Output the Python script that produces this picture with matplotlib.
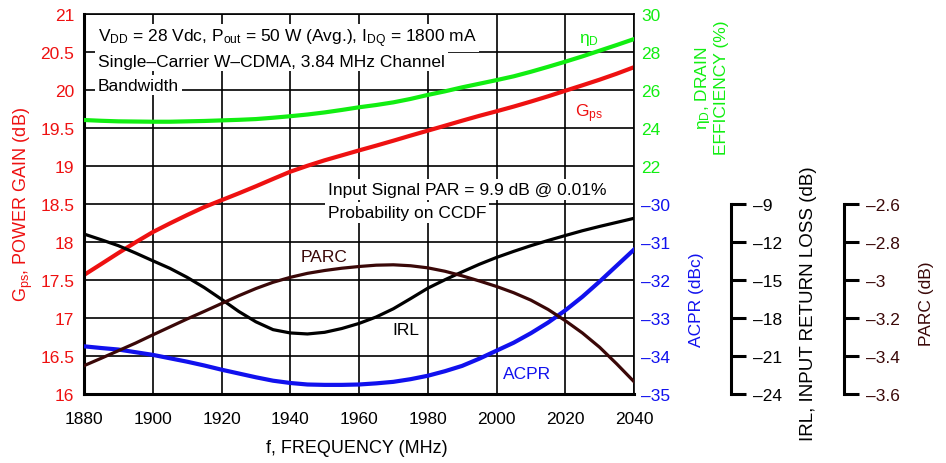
import matplotlib
matplotlib.use("Agg")
import matplotlib.pyplot as plt

plt.rcParams['font.family'] = ['Liberation Sans', 'DejaVu Sans']
plt.rcParams['mathtext.fontset'] = 'custom'
plt.rcParams['mathtext.rm'] = 'Liberation Sans'
plt.rcParams['mathtext.it'] = 'Liberation Sans'

# values, every 5 MHz
freq = [1880, 1885, 1890, 1895, 1900, 1905, 1910, 1915, 1920, 1925, 1930,
        1935, 1940, 1945, 1950, 1955, 1960, 1965, 1970, 1975, 1980, 1985,
        1990, 1995, 2000, 2005, 2010, 2015, 2020, 2025, 2030, 2035, 2040]
gps = [17.566, 17.71, 17.855, 17.996, 18.13, 18.245, 18.355, 18.46, 18.55,
       18.64, 18.733, 18.83, 18.925, 19.003, 19.075, 19.14, 19.205, 19.268,
       19.333, 19.40, 19.465, 19.53, 19.596, 19.66, 19.72, 19.782, 19.848,
       19.917, 19.99, 20.062, 20.136, 20.215, 20.30]
eta = [24.42, 24.38, 24.35, 24.34, 24.33, 24.33, 24.35, 24.37, 24.40, 24.43,
       24.47, 24.54, 24.62, 24.71, 24.82, 24.95, 25.09, 25.21, 25.35, 25.53,
       25.74, 25.93, 26.14, 26.33, 26.52, 26.72, 26.96, 27.22, 27.49, 27.77,
       28.07, 28.37, 28.68]
irl = [-11.37, -11.82, -12.29, -12.87, -13.48, -14.08, -14.79, -15.6, -16.52,
       -17.48, -18.3, -18.92, -19.18, -19.26, -19.13, -18.83, -18.43, -17.92,
       -17.27, -16.47, -15.65, -14.98, -14.36, -13.76, -13.22, -12.74, -12.29,
       -11.88, -11.49, -11.11, -10.77, -10.45, -10.13]
parc = [-3.451, -3.412, -3.372, -3.332, -3.289, -3.247, -3.205, -3.165, -3.124,
        -3.083, -3.045, -3.012, -2.986, -2.965, -2.950, -2.938, -2.929, -2.922,
        -2.920, -2.925, -2.936, -2.954, -2.978, -3.005, -3.034, -3.067, -3.106,
        -3.155, -3.214, -3.279, -3.354, -3.442, -3.535]
acpr = [-33.745, -33.79, -33.83, -33.90, -33.97, -34.06, -34.15, -34.25, -34.36,
        -34.46, -34.56, -34.65, -34.71, -34.75, -34.76, -34.76, -34.75, -34.72,
        -34.68, -34.61, -34.52, -34.40, -34.26, -34.07, -33.86, -33.65, -33.40,
        -33.12, -32.80, -32.44, -32.04, -31.62, -31.20]

xticks = [1880, 1900, 1920, 1940, 1960, 1980, 2000, 2020, 2040]
gps_ticks = [16, 16.5, 17, 17.5, 18, 18.5, 19, 19.5, 20, 20.5, 21]
eta_ticks = [22, 24, 26, 28, 30]
acpr_ticks = [-35, -34, -33, -32, -31, -30]
irl_ticks = [-24, -21, -18, -15, -12, -9]
parc_ticks = [-3.6, -3.4, -3.2, -3, -2.8, -2.6]

RED = '#ee1111'
GREEN = '#11ee11'
BLUE = '#1111ee'
BROWN = '#3a0808'
FS = 12.5

fig = plt.figure(figsize=(9.46, 4.64), dpi=100)
ax = fig.add_axes([84/946, 1-395/464, 550/946, 380/464])

ax.set_xlim(1880, 2040)
ax.set_ylim(16, 21)
ax.set_xticks(xticks)
ax.set_yticks(gps_ticks)
ax.set_yticklabels([('%g' % t) for t in gps_ticks])
ax.grid(True, color='black', lw=1.2)
ax.tick_params(axis='x', length=0, pad=12, labelsize=12.5)
ax.tick_params(axis='y', length=0, pad=7, labelsize=12.5, colors=RED)
for s in ['left', 'bottom']:
    ax.spines[s].set_linewidth(2.2)
for s in ['top', 'right']:
    ax.spines[s].set_linewidth(1.2)
ax.set_ylabel(r'G$_{\mathrm{ps}}$, POWER GAIN (dB)', color=RED, fontsize=13, labelpad=4)
ax.plot(freq, gps, color=RED, lw=3)

# efficiency, upper right scale
ax_eta = ax.twinx()
ax_eta.set_ylim(10, 30)
ax_eta.set_yticks(eta_ticks)
ax_eta.tick_params(axis='y', length=0, pad=5, labelsize=12.5, colors=GREEN)
ax_eta.plot(freq, eta, color=GREEN, lw=3)

# ACPR, lower right scale
ax_acpr = ax.twinx()
ax_acpr.set_ylim(-35, -25)
ax_acpr.set_yticks(acpr_ticks)
ax_acpr.set_yticklabels(['\u2013%d' % -t for t in acpr_ticks])
ax_acpr.tick_params(axis='y', length=0, pad=5, labelsize=12.5, colors=BLUE)
ax_acpr.plot(freq, acpr, color=BLUE, lw=3)

# IRL scale, separate spine
ax_irl = ax.twinx()
ax_irl.set_ylim(-24, 6)
ax_irl.spines['right'].set_position(('axes', 1.176))
ax_irl.spines['right'].set_bounds(-24, -9)
ax_irl.spines['right'].set_linewidth(2.2)
ax_irl.set_yticks(irl_ticks)
ax_irl.set_yticklabels(['\u2013%d' % -t for t in irl_ticks])
ax_irl.tick_params(axis='y', length=11, width=2.2, pad=5, labelsize=12.5)
for s in ['top', 'left', 'bottom']:
    ax_irl.spines[s].set_visible(False)
ax_irl.plot(freq, irl, color='black', lw=2.3)

# PARC scale, separate spine
ax_parc = ax.twinx()
ax_parc.set_ylim(-3.6, -1.6)
ax_parc.spines['right'].set_position(('axes', 1.382))
ax_parc.spines['right'].set_bounds(-3.6, -2.6)
ax_parc.spines['right'].set_linewidth(2.2)
ax_parc.set_yticks(parc_ticks)
ax_parc.set_yticklabels(['\u2013%g' % -t for t in parc_ticks])
ax_parc.tick_params(axis='y', length=11, width=2.2, pad=5, labelsize=12.5, labelcolor=BROWN)
for s in ['top', 'left', 'bottom']:
    ax_parc.spines[s].set_visible(False)
ax_parc.plot(freq, parc, color=BROWN, lw=2.3)

for a in [ax_eta, ax_acpr]:
    for s in ['top', 'left', 'bottom', 'right']:
        a.spines[s].set_visible(False)

box = dict(facecolor='white', edgecolor='none', pad=2)
ax.text(1884.1, 20.636, r'V$_{\mathrm{DD}}$ = 28 Vdc, P$_{\mathrm{out}}$ = 50 W (Avg.), I$_{\mathrm{DQ}}$ = 1800 mA',
        fontsize=FS, va='baseline', bbox=box)
ax.text(1884.1, 20.32, 'Single\u2013Carrier W\u2013CDMA, 3.84 MHz Channel',
        fontsize=FS, va='baseline', bbox=box)
ax.text(1884.1, 20.004, 'Bandwidth', fontsize=FS, va='baseline', bbox=box)
ax.text(1951.0, 18.63, 'Input Signal PAR = 9.9 dB @ 0.01%', fontsize=FS, va='baseline', bbox=box)
ax.text(1951.0, 18.33, 'Probability on CCDF', fontsize=FS, va='baseline', bbox=box)
ax.text(1949.8, 17.75, 'PARC', fontsize=FS, color=BROWN, ha='center', va='baseline', bbox=box)
ax.text(1973.5, 16.79, 'IRL', fontsize=FS, color='black', ha='center', va='baseline', bbox=box)
ax.text(2009.0, 16.215, 'ACPR', fontsize=FS, color=BLUE, ha='center', va='baseline')
ax.text(2027.0, 20.63, '\u03b7$_{\\mathrm{D}}$', fontsize=FS,
        color=GREEN, ha='center', va='baseline')
ax.text(2027.0, 19.66, r'G$_{\mathrm{ps}}$', fontsize=FS, color=RED, ha='center', va='baseline')

fig.text(357/946, 1-449/464, 'f, FREQUENCY (MHz)', fontsize=13, ha='center', va='center')
fig.text(711/946, 1-88/464, '\u03b7$_{\\mathrm{D}}$, DRAIN\nEFFICIENCY (%)', fontsize=12.5,
         color=GREEN, rotation=90, ha='center', va='center', multialignment='center')
fig.text(696/946, 1-300/464, 'ACPR (dBc)', fontsize=12.5, color=BLUE, rotation=90,
         ha='center', va='center')
fig.text(808/946, 1-304/464, 'IRL, INPUT RETURN LOSS (dB)', fontsize=13.5, rotation=90,
         ha='center', va='center')
fig.text(926/946, 1-304/464, 'PARC (dB)', fontsize=12.5, color=BROWN, rotation=90,
         ha='center', va='center')

fig.savefig('out.png', dpi=100)
